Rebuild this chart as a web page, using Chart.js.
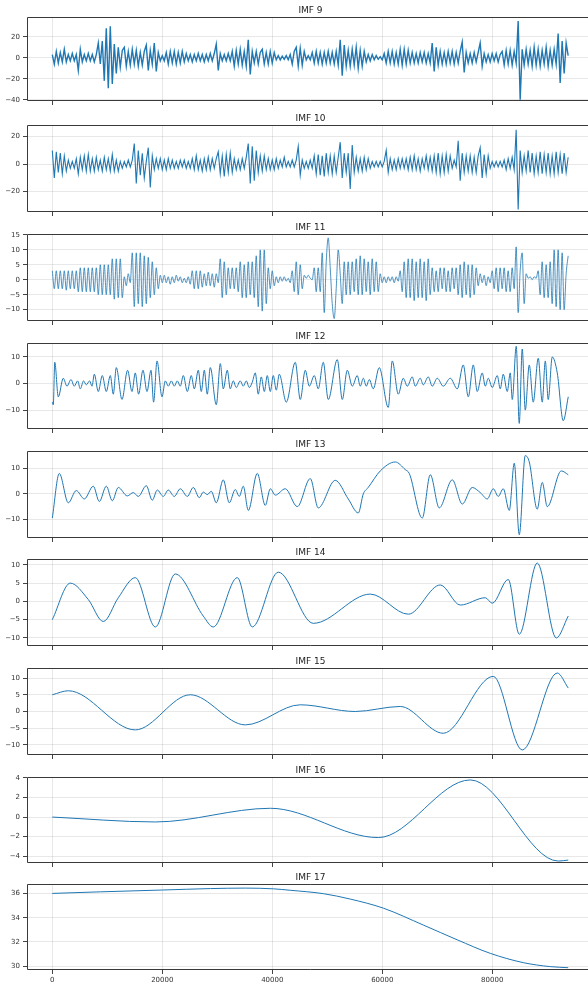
<!DOCTYPE html>
<html>
<head>
<meta charset="utf-8">
<script src="https://cdn.jsdelivr.net/npm/chart.js@4.4.0/dist/chart.umd.min.js"></script>
<style>
  html, body { margin: 0; padding: 0; background: #fff; overflow: hidden; }
  #wrap { position: relative; width: 588px; height: 982px; overflow: hidden; }
  .panel { position: absolute; left: 0; }
</style>
</head>
<body>
<div id="wrap"></div>
<script>
// record length in samples
const SPAN = 93800;
const xTicks = [0, 20000, 40000, 60000, 80000];

// evenly sampled high-frequency modes (one value every ~364 samples)
const imf9 = [
  3, -6, 6, -5, 5, -4, 8, -4, 3, -3,
  4, -3, 3, -12, 8, -4, 3, -3, 4, -3,
  3, -4, 3, 14, -6, 16, -22, 28, -29, 30,
  -25, 13, -15, 10, -9, 7, 10, -8, 6, -7,
  8, -6, 7, -8, 5, -7, 6, 12, -12, 7,
  -6, 14, -13, 5, -3, 2, -3, 5, -6, 6,
  -5, 6, -6, 5, -5, 6, -4, 4, -3, 3,
  -4, 3, -3, 4, -3, 3, -4, 3, -3, 4,
  -3, 4, 13, -12, 4, -3, 3, -3, 4, -3,
  6, -8, 7, -6, 8, -7, 6, -8, 17, -16,
  6, -5, 6, -6, 5, 8, -6, 5, -6, 6,
  -5, 5, -2, 2, -2, 1.5, -1.5, 2, -2, 3,
  -6, 6, 10, -8, 9, -7, 6, -2, 2, -2,
  5, -5, 6, -5, 5, -6, 5, -5, 6, -5,
  5, -6, 6, -7, 17, -17, 12, -8, 7, -8,
  8, -7, 10, -10, 7, -8, 6, -4, 3, -3,
  3, -2, 2, -1.5, 1, -2, 4, -5, 6, -5,
  6, -6, 5, -6, 8, -7, 8, -6, 7, -5,
  5, -5, 4, -5, 5, -4, 5, -5, 4, -5,
  14, -13, 10, -7, 6, -6, 5, -6, 6, -5,
  6, -6, 5, -5, 6, 15, -14, 5, -5, 4,
  -5, 5, -4, 5, 14, -8, 4, -4, 3, -4,
  4, -3, 4, -4, 3, 6, -7, 7, -6, 7,
  -7, 6, -5, 35, -40, 8, -7, 8, -6, 7,
  -8, 10, -7, 8, -8, 7, -6, 10, -8, 7,
  -7, 8, -6, 23, -24, 16, -15, 14, 2
];

const imf10 = [
  10, -10, 9, -6, 8, -7, 6, -5, 3, -3,
  2, -3, 4, -7, 5, -4, 6, -5, 7, -5,
  4, -5, 5, -4, 3, -5, 5, -4, 4, -5,
  7, -5, 3, -5, 2, -3, 2, -2, 3, -2,
  3, 15, -14, 10, -8, 8, -10, 2, 12, -17,
  6, -4, 4, -3, 4, -4, 3, -4, 4, -3,
  3, -3, 2, -3, 3, -2, 3, -3, 2, -3,
  4, -4, 6, -4, 3, -5, 4, -4, 5, -4,
  4, -3, 4, 9, -7, 6, -9, 7, -6, 8,
  -6, 4, -4, 3, -4, 4, -3, 5, 15, -14,
  13, -12, 10, -6, 6, -5, 6, -4, 4, -4,
  3, -4, 4, -3, 3, -2, 5, -2, 2, -2,
  3, -2, 3, 13, -8, 3, -3, 2, -3, 3,
  -3, 6, -7, 7, -8, 6, -9, 8, -6, 6,
  -7, 6, -6, 5, 16, -10, 8, -6, 8, -18,
  14, -6, 5, -5, 4, -5, 5, -4, 4, -3,
  2, -2, 2, -2, 2, -2, 2, 10, -6, 4,
  -4, 3, -4, 4, -3, 4, -3, 4, -4, 5,
  -4, 6, -4, 4, -5, 4, -3, 6, -4, 5,
  -5, 6, -6, 8, -7, 6, -6, 7, -5, 6,
  -3, 3, -2, 17, -12, 8, -6, 6, -5, 6,
  -6, 5, -6, 6, 12, -10, 7, -7, 6, -3,
  2, -2, 2, -2, 2, -2, 3, -4, 4, -3,
  5, -4, 25, -33, 10, -6, 6, -5, 10, -6,
  8, -7, 6, -6, 9, -7, 7, -6, 8, -7,
  6, -7, 9, -6, 7, -7, 8, -6, 5
];

const imf11 = [
  3, -3, 3, -3, 3, -3, 3, -3.5, 3, -3,
  3, -3, 3, -4, 4, -4, 4, -4, 4, -4,
  4, -4, 4, -5, 5, -5, 5, -5, 5, -5,
  7, -6.5, 7, -6, 7, -6, 1, -2, 2, -1,
  9, -9, 9, -8, 9, -9, 8, -8, 7.5, -6,
  6, -5, 4, -3, 1.5, -1, 1.5, -1, 1, -1.5,
  1, -1, 1.5, -0.5, 1, -1, 0.5, -1, 1, -1.5,
  3, -3, 3, -3, 3, -2.5, 2, -2, 2.5, -2,
  2, -2.5, 2, -1, 7, -6, 6, -5, 4, -3,
  4, -3, 4, -4, 6, -6, 5, -6, 6, -5,
  6, -6, 8, -9, 10, -10.5, 10, -8, 4, -3,
  3, -2, 1, -1, 1, -0.5, 1, -0.5, 0.5, -1,
  3, -4, 6, -5, 5, -3, 1.5, 0.5, 1.5, 0.5,
  0, 4, -4, 4, -4, 9, -11, 6, 14, 4,
  -8, -13, -3, 10, 2, -8, 6, -5, 6, -5,
  6, -4, 7, -5, 8, -5, 7, -4, 6, -5,
  7, -4, 6, -4, 2, -1, 1, -1, 1, -0.5,
  1, -1, 1, -0.5, 3, -4, 6, -6, 7, -6,
  7, -7, 6, -6, 7, -6, 6, -7, 7, -5,
  4, -4, 3, -4, 4, -3, 4, -4, 3, -4,
  4, -3, 4, -5, 5, -6, 6, -5, 5, -6,
  5, -5, 4, -2, 2, -1, 1.5, -2, 1, -1,
  3, -3, 4, -4, 4, -3, 4, -4, 3, -4,
  4, -3, 11, -11, 3, 9, -8, 2, 0.5, 1,
  0, 1, 0.5, 3, -5, 6, -6, 5, -6, 6,
  -8, 10, -9, 10, -10, 9, -10, 2, 8
];

// smoother modes: turning points (sample index, value)
const imf12X = [0, 180, 450, 1090, 2000, 2670, 3400, 4000, 4600, 5090, 5690, 6180, 6780, 7220, 7640, 8360, 9090, 9820, 10550, 11090,
  11640, 12670, 13690, 14490, 15090, 15690, 16490, 17220, 17950, 18420, 19040, 19950, 20550, 21090, 21640, 22180, 22730, 23270, 23820, 24550,
  25270, 25820, 26550, 27090, 27640, 28180, 28730, 29820, 30550, 31090, 31820, 32360, 32910, 33450, 34180, 34730, 35270, 35820, 36360, 36910,
  37450, 38000, 38550, 39090, 39640, 40180, 40730, 41270, 42550, 44180, 45090, 46000, 46730, 47640, 48360, 49270, 50180, 51820, 52730, 53640,
  54550, 55450, 56000, 56550, 57090, 57640, 58360, 59450, 61090, 61820, 62910, 63820, 64550, 65450, 66000, 66910, 67450, 68360, 69090, 70000,
  71090, 72360, 73640, 74730, 75640, 76550, 77270, 78180, 78730, 79270, 80000, 80910, 81450, 82000, 82730, 83270, 83640, 84360, 84910, 85450,
  86000, 86730, 87450, 88360, 89090, 89640, 90180, 90910, 91820, 92910, 93820];
const imf12Y = [-7, -8, 8, -5, 2, -1, 1.5, -1, 1, -2, 1, -0.5, 1, -1, 3.5, -3, 3, -3, 3, -4,
  6, -6, 5, -3, 4, -4, 5, -3, 5, -7, 8.5, -5, 1, -1, 1, -1, 1, -1, 3, -3,
  3, -2, 5, -3, 5, -4, 6, -8, 7.5, -2, 5, -2, 1, -1.5, 1, -1, 1, -1.5, 0.5, 4,
  -4, 2.5, -3, 3, -3, 3, -2.5, 3.5, -7, 8, -6, 5, -1, 3, -2, 8, -6, 9, -6, 5,
  -1, 3, -1, 2, -1, 1.5, -2, 6, -9, 8.5, -4, 2, -1, 2.5, -1, 2, -0.5, 2.5, -1, 2,
  -1, 2, -2, 7, -5, 7, -3, 4, -1, 2, -1.5, 3, -2, 3.5, -3, 4, -6, 14, -15, 13,
  -10, 7, -7, 9.5, -7, 8.5, -6, 10, 4, -14, -5];

const imf13X = [0, 1270, 2910, 4360, 5820, 7450, 8550, 9820, 10910, 12000, 13640, 14730, 15640, 17090, 18180, 19090, 20180, 21090, 22180, 23270,
  24550, 25640, 26730, 27450, 28180, 28910, 29820, 31090, 32180, 33270, 34000, 34730, 35640, 37270, 38730, 39640, 40550, 42360, 44550, 46910,
  48360, 51450, 53820, 55640, 56550, 57450, 59640, 62360, 64180, 64910, 67270, 68730, 70360, 72730, 74550, 76360, 77820, 79090, 80180, 81090,
  82000, 83090, 84000, 84910, 86000, 86730, 88180, 89090, 90000, 92550, 93820];
const imf13Y = [-9.5, 8, -3.5, 1.3, -2, 3, -3, 3, -2.7, 2.5, -0.8, 0.5, -1, 3.2, -2.5, 1.5, -1, 1.5, -1, 2,
  -1, 2.5, -1.5, 0.7, -0.3, 1, -3.5, 5.5, -3.5, 1.7, -1, 3, -6.5, 8, -4.5, 2, -0.5, 2, -5, 6,
  -5.5, 5.3, -2, -7.5, 0, 2.5, 9, 12.5, 9.5, 8, -9.5, 7.5, -5.5, 5.5, -4, 2.5, 0.5, -2, 2, -1,
  2, -6.5, 12, -16, 15, 12.5, -6, 4.5, -5, 9, 7.5];

const imf14X = [0, 3270, 6550, 9270, 12000, 15090, 18730, 22360, 27450, 29270, 33640, 36360, 41090, 47450, 57820, 64730, 70550, 74180, 78730, 80000,
  82910, 84910, 88180, 91640, 93820];
const imf14Y = [-5, 5, 0.5, -5.5, 1, 6.5, -7, 7.5, -4, -7, 6.5, -7, 8, -6, 2, -3.5, 4.5, -1, 1, -0.5,
  6, -9, 10.5, -10, -4];

const imf15X = [0, 2910, 15090, 25090, 35090, 45090, 55090, 63270, 71090, 80180, 85450, 91820, 93820];
const imf15Y = [5, 6.2, -5.5, 5, -4, 2, 0, 1.5, -6.5, 10.5, -11.5, 11.5, 7];

const imf16X = [0, 18730, 39640, 59270, 76000, 92000, 93820];
const imf16Y = [0, -0.5, 0.9, -2.1, 3.8, -4.5, -4.4];

const imf17X = [0, 8730, 20000, 28730, 35090, 40180, 43270, 49270, 54180, 60180, 67450, 73640, 79640, 85640, 90550, 93820];
const imf17Y = [36.02, 36.15, 36.3, 36.42, 36.46, 36.4, 36.28, 36.0, 35.55, 34.8, 33.4, 32.17, 31.05, 30.28, 29.95, 29.86];

function evenly(values) {
  const step = SPAN / (values.length - 1);
  return values.map((v, i) => ({ x: i * step, y: v }));
}

function paired(xs, ys) {
  return xs.map((x, i) => ({ x: x, y: ys[i] }));
}

const panels = [
  { title: 'IMF 9',  points: evenly(imf9),  smooth: false, lw: 1.4, min: -41.2, max: 38.8, ticks: [-40, -20, 0, 20], top: 17, h: 84 },
  { title: 'IMF 10', points: evenly(imf10), smooth: false, lw: 1.1, min: -34.8, max: 28.5, ticks: [-20, 0, 20], top: 125, h: 87 },
  { title: 'IMF 11', points: evenly(imf11), smooth: true,  lw: 0.8, min: -13.8, max: 15.3, ticks: [-10, -5, 0, 5, 10, 15], top: 234, h: 87 },
  { title: 'IMF 12', points: paired(imf12X, imf12Y), smooth: true, lw: 1, min: -17.1, max: 15.25, ticks: [-10, 0, 10], top: 343, h: 86 },
  { title: 'IMF 13', points: paired(imf13X, imf13Y), smooth: true, lw: 1, min: -17.3, max: 16.8, ticks: [-10, 0, 10], top: 451, h: 87 },
  { title: 'IMF 14', points: paired(imf14X, imf14Y), smooth: true, lw: 1, min: -12.2, max: 11.6, ticks: [-10, -5, 0, 5, 10], top: 559, h: 87 },
  { title: 'IMF 15', points: paired(imf15X, imf15Y), smooth: true, lw: 1, min: -13, max: 13, ticks: [-10, -5, 0, 5, 10], top: 668, h: 87 },
  { title: 'IMF 16', points: paired(imf16X, imf16Y), smooth: true, lw: 1, min: -4.7, max: 4.1, ticks: [-4, -2, 0, 2, 4], top: 777, h: 86 },
  { title: 'IMF 17', points: paired(imf17X, imf17Y), smooth: true, lw: 1, min: 29.67, max: 36.8, ticks: [30, 32, 34, 36], top: 884, h: 86 }
];

const FONT = '"DejaVu Sans", "Liberation Sans", sans-serif';
const TITLE_H = 14;
Chart.defaults.font.family = FONT;

// spines round the plot area (the right one falls outside the cropped figure)
const frame = {
  id: 'frame',
  afterDraw(chart) {
    const { ctx, chartArea: a } = chart;
    const l = Math.round(a.left) + 0.5, t = Math.round(a.top) + 0.5;
    const r = Math.round(a.right), b = Math.round(a.bottom) - 0.5;
    ctx.save();
    ctx.strokeStyle = '#3a3a3a';
    ctx.lineWidth = 1;
    ctx.beginPath();
    ctx.moveTo(r, t); ctx.lineTo(l, t); ctx.lineTo(l, b); ctx.lineTo(r, b);
    ctx.stroke();
    ctx.restore();
  }
};

const minus = v => (v < 0 ? '\u2212' + Math.abs(v) : String(v));
const wrap = document.getElementById('wrap');

panels.forEach((p, idx) => {
  const last = idx === panels.length - 1;
  const bottomH = last ? 22 : 5;
  const height = TITLE_H + p.h + bottomH;

  const box = document.createElement('div');
  box.className = 'panel';
  box.style.top = (p.top - TITLE_H) + 'px';
  const canvas = document.createElement('canvas');
  canvas.width = 600;
  canvas.height = height;
  canvas.style.width = '600px';
  canvas.style.height = height + 'px';
  box.appendChild(canvas);
  wrap.appendChild(box);

  new Chart(canvas.getContext('2d'), {
    type: 'line',
    data: {
      datasets: [{
        data: p.points,
        borderColor: '#1f77b4',
        borderWidth: p.lw,
        pointRadius: 0,
        fill: false,
        tension: 0,
        cubicInterpolationMode: p.smooth ? 'monotone' : 'default'
      }]
    },
    options: {
      responsive: false,
      animation: false,
      devicePixelRatio: 1,
      layout: { padding: { left: 0, right: 6, top: 0, bottom: 0 } },
      plugins: {
        legend: { display: false },
        tooltip: { enabled: false },
        title: {
          display: true,
          text: p.title,
          fullSize: false,
          color: '#222',
          font: { size: 9, weight: 'normal', family: FONT, lineHeight: 1 },
          padding: { top: 3, bottom: 2 }
        }
      },
      scales: {
        x: {
          type: 'linear',
          min: -4600,
          max: 98500,
          afterBuildTicks: s => { s.ticks = xTicks.map(v => ({ value: v })); },
          afterFit: s => {
            s.height = bottomH;
            s.paddingLeft = 0; s.paddingRight = 0; s.paddingTop = 0; s.paddingBottom = 0;
          },
          ticks: {
            display: last,
            color: '#333',
            font: { size: 7, family: FONT },
            padding: 2,
            maxRotation: 0,
            autoSkip: false,
            callback: v => String(v)
          },
          grid: { color: 'rgba(0,0,0,0.09)', tickLength: 4, tickColor: '#444' },
          border: { display: false }
        },
        y: {
          type: 'linear',
          min: p.min,
          max: p.max,
          afterBuildTicks: s => { s.ticks = p.ticks.map(v => ({ value: v })); },
          afterFit: s => {
            s.width = 27;
            s.paddingLeft = 0; s.paddingRight = 0; s.paddingTop = 0; s.paddingBottom = 0;
          },
          ticks: {
            color: '#333',
            font: { size: 7, family: FONT },
            padding: 3,
            autoSkip: false,
            callback: minus
          },
          grid: { color: 'rgba(0,0,0,0.09)', tickLength: 4, tickColor: '#444' },
          border: { display: false }
        }
      }
    },
    plugins: [frame]
  });
});
</script>
</body>
</html>
